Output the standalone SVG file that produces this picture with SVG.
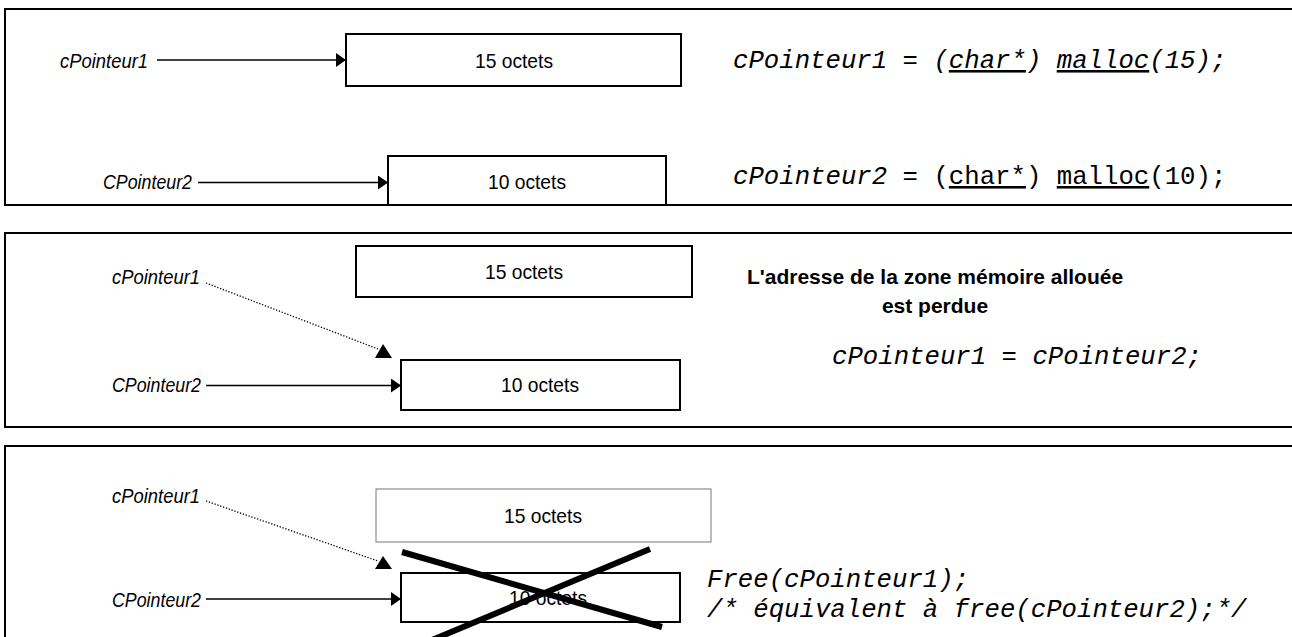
<svg xmlns="http://www.w3.org/2000/svg" width="1292" height="637" viewBox="0 0 1292 637">
<defs>
<style>
.panel{fill:none;stroke:#000;stroke-width:2}
.box{fill:#fff;stroke:#000;stroke-width:2}
.box2{fill:#fff;stroke:#777;stroke-width:1}
.lbl{font-family:"Liberation Sans",Arial,sans-serif;font-size:21px;font-style:italic;fill:#000}
.btxt{font-family:"Liberation Sans",Arial,sans-serif;font-size:21px;fill:#000;text-anchor:middle}
.bold{font-family:"Liberation Sans",Arial,sans-serif;font-size:21px;font-weight:bold;fill:#000;text-anchor:middle}
.code{font-family:"Liberation Mono","Courier New",monospace;font-size:25.7px;font-style:italic;fill:#000}
.up{font-style:normal}
.ul{text-decoration:underline}
.arr{stroke:#000;stroke-width:1.5;fill:none;marker-end:url(#ah)}
.dot{stroke:#000;stroke-width:1.3;fill:none;stroke-dasharray:1.3 1.7}
.cross{stroke:#000;stroke-width:6;fill:none}
</style>
<marker id="ah" markerUnits="userSpaceOnUse" markerWidth="12" markerHeight="16" refX="10" refY="7" orient="auto">
<path d="M0,0 L10,7 L0,14 Z" fill="#000"/>
</marker>
</defs>

<g id="panels">
<rect id="panel1" class="panel" x="5" y="9" width="1300" height="196"/>
<rect id="panel2" class="panel" x="5" y="233" width="1300" height="194"/>
<rect id="panel3" class="panel" x="5" y="446" width="1300" height="200"/>
</g>

<g id="p1-box15"><rect class="box" x="346" y="34" width="335" height="52"/><text class="btxt" x="514" y="68" textLength="78" lengthAdjust="spacingAndGlyphs">15 octets</text></g>
<g id="p1-box10"><rect class="box" x="388" y="156" width="278" height="49"/><text class="btxt" x="527" y="189" textLength="78" lengthAdjust="spacingAndGlyphs">10 octets</text></g>
<g id="p1-ptr1"><text class="lbl" x="60" y="68" textLength="88" lengthAdjust="spacingAndGlyphs">cPointeur1</text></g>
<g id="p1-ptr2"><text class="lbl" x="103" y="189" textLength="89" lengthAdjust="spacingAndGlyphs">CPointeur2</text></g>
<g id="p1-code">
<text class="code" x="733" y="68">cPointeur1 = (<tspan class="ul">char*</tspan>) <tspan class="ul">malloc</tspan>(15);</text>
<text class="code" x="733" y="184">cPointeur2 <tspan class="up">= (<tspan class="ul">char*</tspan>) <tspan class="ul">malloc</tspan>(10);</tspan></text>
</g>

<g id="p2-box15"><rect class="box" x="356" y="246" width="336" height="51"/><text class="btxt" x="524" y="279" textLength="78" lengthAdjust="spacingAndGlyphs">15 octets</text></g>
<g id="p2-box10"><rect class="box" x="401" y="360" width="279" height="50"/><text class="btxt" x="540" y="392" textLength="78" lengthAdjust="spacingAndGlyphs">10 octets</text></g>
<g id="p2-ptr1"><text class="lbl" x="112" y="284" textLength="88" lengthAdjust="spacingAndGlyphs">cPointeur1</text></g>
<g id="p2-ptr2"><text class="lbl" x="112" y="392" textLength="89" lengthAdjust="spacingAndGlyphs">CPointeur2</text></g>
<g id="p2-note">
<text class="bold" x="935" y="284">L'adresse de la zone mémoire allouée</text>
<text class="bold" x="935" y="313">est perdue</text>
<text class="code" x="832" y="364">cPointeur1 = cPointeur2;</text>
</g>

<g id="p3-box15"><rect class="box2" x="376" y="489" width="335" height="53"/><text class="btxt" x="543" y="523" textLength="78" lengthAdjust="spacingAndGlyphs">15 octets</text></g>
<g id="p3-box10"><rect class="box" x="401" y="573" width="279" height="49"/><text class="btxt" x="548" y="605" textLength="78" lengthAdjust="spacingAndGlyphs">10 octets</text></g>
<g id="p3-ptr1"><text class="lbl" x="112" y="503" textLength="88" lengthAdjust="spacingAndGlyphs">cPointeur1</text></g>
<g id="p3-ptr2"><text class="lbl" x="112" y="607" textLength="89" lengthAdjust="spacingAndGlyphs">CPointeur2</text></g>
<g id="p3-code">
<text class="code" x="707" y="587">Free(cPointeur1);</text>
<text class="code" x="707" y="617">/* équivalent à free(cPointeur2);*/</text>
</g>

<g id="connectors">
<line class="arr" x1="157" y1="60" x2="346" y2="60"/>
<line class="arr" x1="198" y1="182.5" x2="388" y2="182.5"/>
<line class="dot" x1="206" y1="283" x2="378" y2="349"/>
<polygon points="383,344 375,358 392,358" fill="#000"/>
<line class="arr" x1="206" y1="385.5" x2="401" y2="385.5"/>
<line class="dot" x1="206" y1="501" x2="378" y2="561"/>
<polygon points="383,556 375,569 392,569" fill="#000"/>
<line class="arr" x1="206" y1="599" x2="401" y2="599"/>
</g>

<g id="cross">
<line class="cross" x1="402" y1="552" x2="662" y2="627"/>
<line class="cross" x1="650" y1="549" x2="432" y2="640"/>
</g>
</svg>
